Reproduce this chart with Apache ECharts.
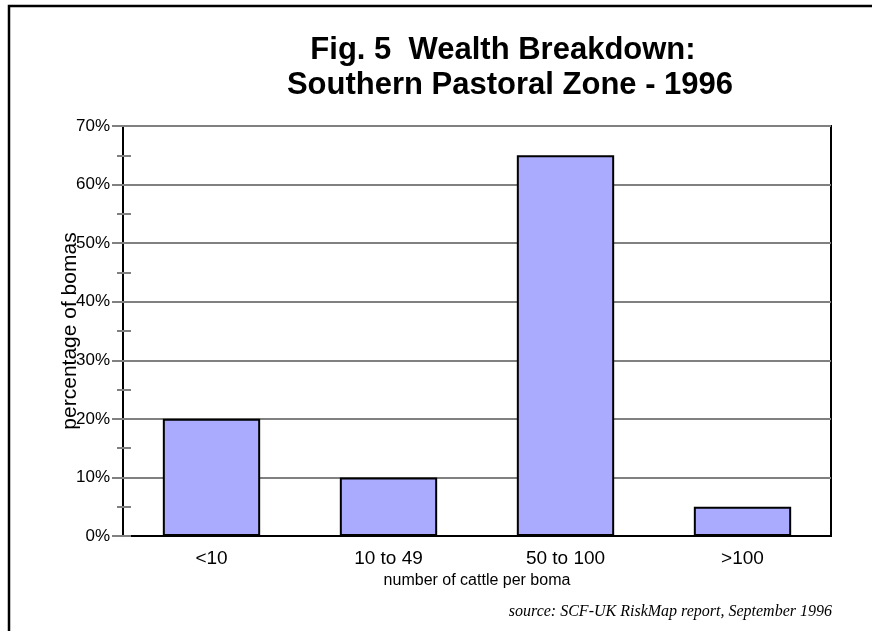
<!DOCTYPE html>
<html>
<head>
<meta charset="utf-8">
<script src="https://cdn.jsdelivr.net/npm/echarts@6/dist/echarts.min.js"></script>
<style>
  html, body { margin: 0; padding: 0; background: #fff; }
  #chart { width: 872px; height: 631px; }
</style>
</head>
<body>
<div id="chart"></div>
<script>
// values
var categories = ['<10', '10 to 49', '50 to 100', '>100'];
var shares = [20, 10, 65, 5];
var yMax = 70;

var titleLine1 = 'Fig. 5  Wealth Breakdown:';
var titleLine2 = 'Southern Pastoral Zone - 1996';
var sourceText = 'source: SCF-UK RiskMap report, September 1996';

var font = 'Liberation Sans, Arial, sans-serif';
var gray = '#808080';

var chart = echarts.init(document.getElementById('chart'), null, { renderer: 'canvas' });

var titleStyle = { fontFamily: font, fontSize: 31, fontWeight: 'bold', color: '#000' };

chart.setOption({
  animation: false,
  title: [
    { text: titleLine1, left: 503, top: 35, textAlign: 'center', padding: 0, textStyle: titleStyle },
    { text: titleLine2, left: 510, top: 70, textAlign: 'center', padding: 0, textStyle: titleStyle }
  ],
  grid: {
    left: 123, top: 126, right: 41, bottom: 95,
    show: true, borderColor: '#000', borderWidth: 2
  },
  xAxis: [{
    type: 'category',
    data: categories,
    name: 'number of cattle per boma',
    nameLocation: 'middle',
    nameGap: 37,
    nameMoveOverlap: false,
    nameTextStyle: { fontFamily: font, fontSize: 16, color: '#000' },
    axisLine: { lineStyle: { color: '#000', width: 2 } },
    axisTick: { length: 7, interval: 0, lineStyle: { color: gray, width: 2 } },
    axisLabel: { margin: 13, fontFamily: font, fontSize: 19, color: '#000' }
  }, {
    // inner half of the crossing ticks
    type: 'category',
    data: categories,
    position: 'bottom',
    axisLine: { show: false },
    axisTick: { inside: true, length: 7, interval: 0, lineStyle: { color: gray, width: 2 } },
    axisLabel: { show: false }
  }],
  yAxis: [{
    type: 'value',
    min: 0, max: yMax, interval: 10,
    name: 'percentage of bomas',
    nameLocation: 'middle',
    nameGap: 42,
    nameMoveOverlap: false,
    nameTextStyle: { fontFamily: font, fontSize: 21, color: '#000' },
    axisLine: { show: true, lineStyle: { color: '#000', width: 2 } },
    axisTick: { show: true, length: 11, lineStyle: { color: gray, width: 2 } },
    axisLabel: { margin: 13, fontFamily: font, fontSize: 17, color: '#000', formatter: '{value}%' },
    splitLine: { show: true, lineStyle: { color: gray, width: 2 } }
  }, {
    // minor ticks every 5%, crossing the axis
    type: 'value',
    min: 0, max: yMax, interval: 5,
    position: 'left',
    axisLine: { show: false },
    axisTick: { show: true, inside: true, length: 8, lineStyle: { color: gray, width: 2 } },
    axisLabel: { show: false },
    splitLine: { show: false }
  }, {
    type: 'value',
    min: 0, max: yMax, interval: 5,
    position: 'left',
    axisLine: { show: false },
    axisTick: { show: true, length: 6, lineStyle: { color: gray, width: 2 } },
    axisLabel: { show: false },
    splitLine: { show: false }
  }],
  series: [{
    type: 'bar',
    data: shares,
    barWidth: '55%',
    z: 5,
    itemStyle: { color: '#AAAAFF', borderColor: '#000', borderWidth: 2 }
  }],
  graphic: [{
    type: 'rect',
    shape: { x: 9, y: 6, width: 1000, height: 800 },
    style: { fill: 'none', stroke: '#000', lineWidth: 2.5 },
    silent: true
  }, {
    type: 'text',
    right: 40,
    top: 604,
    style: {
      text: sourceText,
      font: 'italic 16px "Liberation Serif", "Times New Roman", serif',
      fill: '#000'
    }
  }]
});
</script>
</body>
</html>
